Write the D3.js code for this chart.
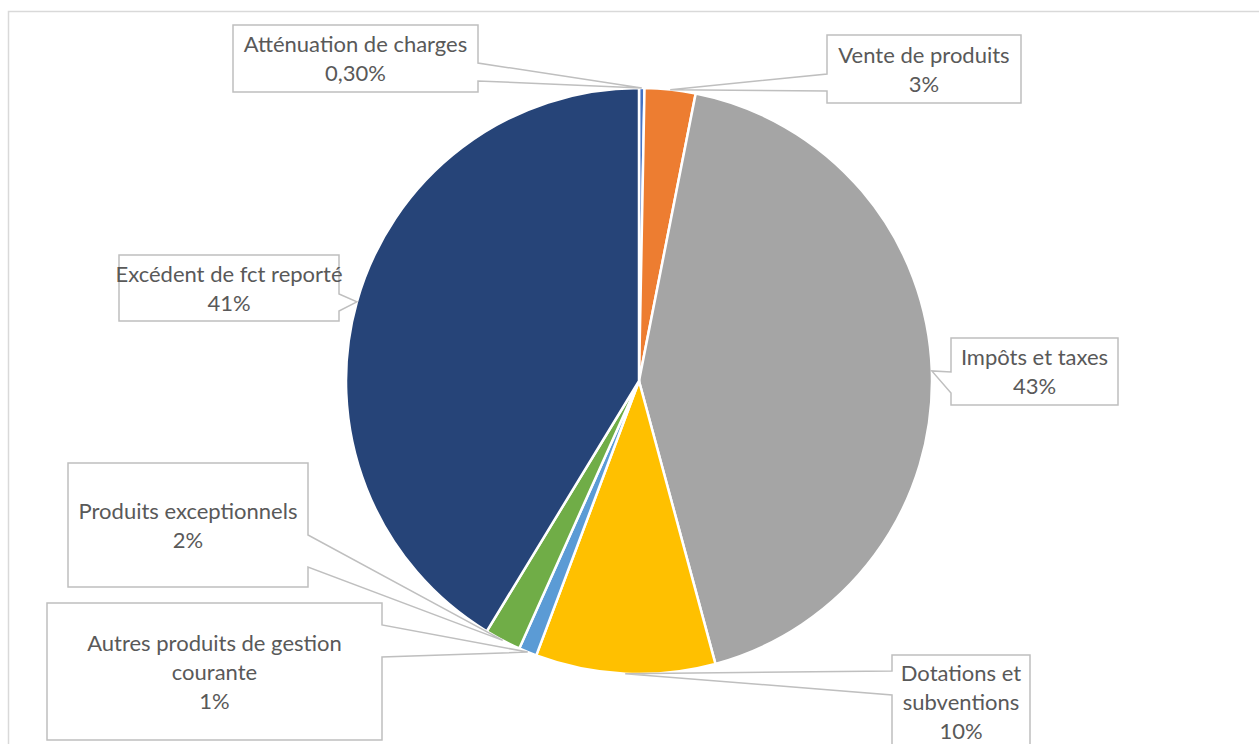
<!DOCTYPE html>
<html>
<head>
<meta charset="utf-8">
<script src="https://cdn.jsdelivr.net/npm/d3@7"></script>
<style>
  body { margin: 0; background: #fff; }
  svg { display: block; }
</style>
</head>
<body>
<svg></svg>
<script>
let categories = ['Atténuation de charges', 'Vente de produits', 'Impôts et taxes',
                  'Dotations et subventions', 'Autres produits de gestion courante',
                  'Produits exceptionnels', 'Excédent de fct reporté'];
let values = [0.3, 2.8, 42.7, 9.9, 1.0, 2.0, 41.3];
let valueLabels = ['0,30%', '3%', '43%', '10%', '1%', '2%', '41%'];
let colors = ['#4472C4', '#ED7D31', '#A5A5A5', '#FFC000', '#5B9BD5', '#70AD47', '#264478'];

// callout boxes: label lines, box, side of the wedge and the gap it leaves in the border
let callouts = [
  { lines: ['Atténuation de charges'], x0: 233, y0: 25, x1: 478, y1: 92, side: 'right', g0: 63, g1: 81 },
  { lines: ['Vente de produits'], x0: 827, y0: 35, x1: 1021, y1: 103, side: 'left', g0: 74, g1: 91 },
  { lines: ['Impôts et taxes'], x0: 951, y0: 338, x1: 1118, y1: 405, side: 'left', g0: 372, g1: 393 },
  { lines: ['Dotations et', 'subventions'], x0: 892, y0: 655, x1: 1030, y1: 748, side: 'left', g0: 671, g1: 695 },
  { lines: ['Autres produits de gestion', 'courante'], x0: 47, y0: 603, x1: 382, y1: 740, side: 'right', g0: 625, g1: 657 },
  { lines: ['Produits exceptionnels'], x0: 68, y0: 463, x1: 308, y1: 587, side: 'right', g0: 535, g1: 567 },
  { lines: ['Excédent de fct reporté'], x0: 119, y0: 255, x1: 339, y1: 321, side: 'right', g0: 294, g1: 311 }
];

let svgWidth = 1259, svgHeight = 744;
let cx = 639, cy = 381, radius = 293;
let fontSize = 22, lineHeight = 29;

let svg = d3.select('svg')
            .attr('width', svgWidth)
            .attr('height', svgHeight);

svg.append('rect')
   .attr('x', 8.5).attr('y', 11.5)
   .attr('width', 1280).attr('height', 800)
   .attr('fill', '#fff')
   .attr('stroke', '#d9d9d9')
   .attr('stroke-width', 1.5);

let pie = d3.pie().sort(null).value((d) => d);
let arcs = pie(values);

let arc = d3.arc().innerRadius(0).outerRadius(radius);

let g = svg.append('g').attr('transform', 'translate(' + cx + ',' + cy + ')');

g.selectAll('path')
 .data(arcs)
 .enter()
 .append('path')
 .attr('d', arc)
 .attr('fill', (d, i) => colors[i])
 .attr('stroke', '#fff')
 .attr('stroke-width', 2.5)
 .attr('stroke-linejoin', 'round');

// tip of each callout sits on the outer edge at the slice's middle angle
let tipOf = (d) => {
  let a = (d.startAngle + d.endAngle) / 2;
  return [cx + radius * Math.sin(a), cy - radius * Math.cos(a)];
};

let calloutPath = (c, tip) => {
  let p = d3.path();
  if (c.side === 'right') {
    p.moveTo(c.x0, c.y0);
    p.lineTo(c.x1, c.y0);
    p.lineTo(c.x1, c.g0);
    p.lineTo(tip[0], tip[1]);
    p.lineTo(c.x1, c.g1);
    p.lineTo(c.x1, c.y1);
    p.lineTo(c.x0, c.y1);
  } else {
    p.moveTo(c.x1, c.y0);
    p.lineTo(c.x0, c.y0);
    p.lineTo(c.x0, c.g0);
    p.lineTo(tip[0], tip[1]);
    p.lineTo(c.x0, c.g1);
    p.lineTo(c.x0, c.y1);
    p.lineTo(c.x1, c.y1);
  }
  p.closePath();
  return p.toString();
};

let labels = svg.selectAll('g.callout')
                .data(arcs)
                .enter()
                .append('g')
                .attr('class', 'callout');

labels.append('path')
      .attr('d', (d, i) => calloutPath(callouts[i], tipOf(d)))
      .attr('fill', '#fff')
      .attr('stroke', '#bfbfbf')
      .attr('stroke-width', 1.5)
      .attr('stroke-linejoin', 'miter');

labels.each(function (d, i) {
  let c = callouts[i];
  let lines = c.lines.concat([valueLabels[i]]);
  let n = lines.length;
  let mx = (c.x0 + c.x1) / 2, my = (c.y0 + c.y1) / 2;
  d3.select(this).selectAll('text')
    .data(lines)
    .enter()
    .append('text')
    .attr('x', mx)
    .attr('y', (t, j) => my + (j - (n - 1) / 2) * lineHeight + 8)
    .attr('text-anchor', 'middle')
    .attr('font-family', 'Lato, "Open Sans", sans-serif')
    .attr('font-size', fontSize)
    .attr('fill', '#595959')
    .text((t) => t);
});
</script>
</body>
</html>
